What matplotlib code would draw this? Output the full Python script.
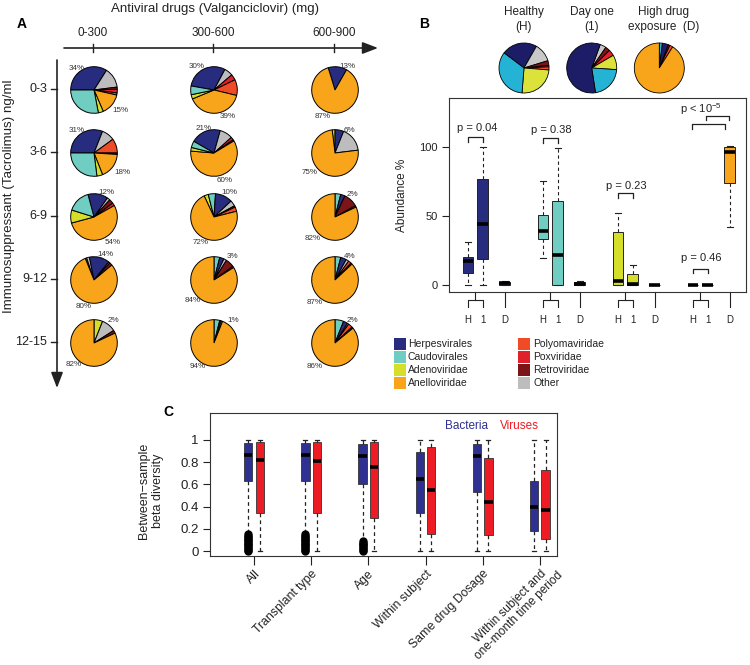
import matplotlib
matplotlib.use('Agg')
import matplotlib.pyplot as plt
from matplotlib.patches import Rectangle

plt.rcParams['font.family'] = ['Liberation Sans', 'DejaVu Sans']
plt.rcParams['axes.linewidth'] = 0.8

W, H = 750, 665
fig = plt.figure(figsize=(W / 100, H / 100), dpi=100)


def Y(y):
    return H - y


def px_axes(x0, y0, x1, y1):
    return fig.add_axes([x0 / W, 1 - y1 / H, (x1 - x0) / W, (y1 - y0) / H])


# ------------------------------------------------------------------ data
categories = ['Herpesvirales', 'Caudovirales', 'Adenoviridae', 'Anelloviridae',
              'Polyomaviridae', 'Poxviridae', 'Retroviridae', 'Other']
cat_colors = ['#282c7e', '#6fcdc1', '#d5df2a', '#f8a51b',
              '#ef4b27', '#e0202a', '#7c1517', '#bdbdbd']
cat_colors_B = ['#1c1d66', '#25b3d5', '#dbe33a', '#f8a51b',
                '#ef4b27', '#e0202a', '#7c1517', '#c8c8c8']

drug_doses = ['0-300', '300-600', '600-900']
tacro_levels = ['0-3', '3-6', '6-9', '9-12', '12-15']

# pie composition: (category index, percent), clockwise
pies_row_0_3 = [
    [(0, 34), (7, 14), (6, 1.5), (5, 2.5), (4, 1.5), (3, 15), (2, 3.5), (1, 28)],
    [(0, 30), (7, 6), (5, 4), (4, 11), (3, 40), (2, 3), (1, 6)],
    [(0, 13), (3, 87)],
]
pies_row_3_6 = [
    [(0, 31), (7, 9), (4, 10), (6, 1), (3, 18), (2, 4), (1, 27)],
    [(0, 21), (7, 9), (5, 2), (6, 1), (3, 60), (2, 2.5), (1, 4.5)],
    [(2, 2), (0, 6), (7, 17), (3, 75)],
]
pies_row_6_9 = [
    [(0, 14), (7, 2), (6, 3), (5, 2), (3, 54), (2, 9), (1, 16)],
    [(2, 3), (1, 5), (0, 12), (7, 4), (6, 1), (4, 3), (3, 72)],
    [(1, 4), (0, 3), (6, 10), (5, 1), (3, 82)],
]
pies_row_9_12 = [
    [(1, 1), (7, 2), (0, 14), (7, 1), (6, 2), (3, 80)],
    [(1, 4), (0, 3), (7, 2), (6, 6), (5, 1), (3, 84)],
    [(1, 4), (0, 4), (7, 2), (4, 2), (6, 1), (3, 87)],
]
pies_row_12_15 = [
    [(2, 6), (7, 10), (6, 2), (3, 82)],
    [(1, 4), (0, 1), (7, 1), (3, 94)],
    [(1, 6), (0, 3), (7, 1), (4, 3), (6, 1), (3, 86)],
]
pies_A = [pies_row_0_3, pies_row_3_6, pies_row_6_9, pies_row_9_12, pies_row_12_15]

top_labels = [['34%', '30%', '13%'], ['31%', '21%', '6%'], ['12%', '10%', '2%'],
              ['14%', '3%', '4%'], ['2%', '1%', '2%']]
bottom_labels = [['15%', '39%', '87%'], ['18%', '60%', '75%'], ['54%', '72%', '82%'],
                 ['80%', '84%', '87%'], ['82%', '94%', '86%']]

pie_healthy = [(0, 23), (7, 12), (6, 3), (5, 1), (4, 2), (2, 25), (1, 34)]
pie_dayone = [(7, 4), (6, 3), (5, 4), (2, 9.5), (1, 21.5), (0, 58)]
pie_highdrug = [(1, 2), (0, 4), (6, 1), (4, 2), (3, 91)]
pie_B_titles = ['Healthy\n(H)', 'Day one\n(1)', 'High drug\nexposure  (D)']

# panel B box stats (whislo, q1, med, q3, whishi) per virus group
box_H = [(0, 8.9, 17.6, 20.5, 30.9), (19.3, 33.3, 39.4, 50.5, 75.4),
         (0, 0, 3.1, 38.2, 52.2), (0, 0, 0, 0, 0)]
box_1 = [(0, 18.6, 44, 76.6, 100), (0, 0, 21.5, 61, 99),
         (0, 0, 0.7, 8, 14.2), (0, 0, 0, 0, 0)]
box_D = [(0, 0, 1.2, 2.2, 3.1), (0, 0, 1, 2, 3),
         (0, 0, 0, 0, 0), (42.3, 74.1, 96.6, 100, 100.5)]
box_group_colors = [cat_colors[0], cat_colors[1], cat_colors[2], cat_colors[3]]
box_xlabels = ['H', '1', 'D']
pvals = ['p = 0.04', 'p = 0.38', 'p = 0.23', 'p = 0.46']

# panel C beta diversity (whislo, q1, med, q3, whishi)
c_categories = ['All', 'Transplant type', 'Age', 'Within subject', 'Same drug Dosage',
                'Within subject and\none-month time period']
bact_stats = [(0.16, 0.63, 0.865, 0.975, 1.0), (0.16, 0.635, 0.865, 0.97, 1.0),
              (0.10, 0.605, 0.855, 0.965, 1.0), (0.0, 0.34, 0.645, 0.89, 1.0),
              (0.0, 0.535, 0.855, 0.96, 1.0), (0.0, 0.18, 0.395, 0.63, 1.0)]
virus_stats = [(0.0, 0.34, 0.82, 0.98, 1.0), (0.0, 0.345, 0.815, 0.98, 1.0),
               (0.0, 0.295, 0.76, 0.98, 1.0), (0.0, 0.155, 0.545, 0.935, 1.0),
               (0.0, 0.14, 0.445, 0.84, 1.0), (0.0, 0.11, 0.37, 0.73, 1.0)]
bact_outliers = [
    [0.0, 0.012, 0.025, 0.037, 0.05, 0.062, 0.075, 0.087, 0.1, 0.112, 0.125, 0.137, 0.15],
    [0.0, 0.012, 0.025, 0.037, 0.05, 0.062, 0.075, 0.087, 0.1, 0.112, 0.125, 0.137, 0.15],
    [0.0, 0.012, 0.025, 0.037, 0.05, 0.062, 0.075, 0.087],
    [], [], [],
]
bact_color = '#2e3192'
virus_color = '#ed1c24'

# ------------------------------------------------------------------ layout
col_x = [94, 214, 335]
row_y = [90, 153, 217, 280, 343]
R_A = 23.3
pie_start_A = [[180, 170, 107], [180, 150, 97], [105, 115, 90], [112, 90, 90], [90, 90, 90]]
top_off = [[(-17, -21), (-17, -23), (12, -24)], [(-17, -22), (-10, -25), (14, -23)],
           [(12, -25), (15, -25), (17, -23)], [(11, -26), (18, -23), (15, -23)],
           [(19, -23), (19, -23), (17, -23)]]
bot_off = [[(26, 20), (14, 27), (-12, 26)], [(28, 19), (11, 27), (-25, 20)],
           [(19, 25), (-13, 25), (-22, 22)], [(-10, 26), (-21, 20), (-20, 23)],
           [(-20, 22), (-16, 24), (-20, 23)]]

# ------------------------------------------------------------------ panel B boxes
axB = px_axes(449, 98, 746, 292)
grp_base = [0, 5.1, 10.2, 15.3]
offs = [0, 1, 2.5]
stats, pos, fcols = [], [], []
for g in range(4):
    for j, src in enumerate([box_H, box_1, box_D]):
        lo, q1, med, q3, hi = src[g]
        stats.append(dict(whislo=lo, q1=q1, med=med, q3=q3, whishi=hi, fliers=[]))
        pos.append(grp_base[g] + offs[j])
        fcols.append(box_group_colors[g])
bp = axB.bxp(stats, positions=pos, widths=0.72, capwidths=0.4, patch_artist=True,
             showfliers=False,
             boxprops=dict(edgecolor='#222222', linewidth=0.7),
             medianprops=dict(color='black', linewidth=2.6, solid_capstyle='butt'),
             whiskerprops=dict(color='#222222', linewidth=0.8, linestyle=(0, (3, 2.5))),
             capprops=dict(color='#222222', linewidth=0.8))
for patch, c in zip(bp['boxes'], fcols):
    patch.set_facecolor(c)
axB.set_xlim(-1.29, 18.91)
axB.set_ylim(-5.07, 135.5)
axB.set_xticks([])
axB.set_yticks([0, 50, 100])
axB.tick_params(axis='y', length=5, width=0.8, labelsize=8, pad=3, colors='#222222')
for s in axB.spines.values():
    s.set_color('#333333')
axB.set_ylabel('Abundance %', fontsize=8.5, labelpad=8, color='#222222')

tr = axB.get_xaxis_transform()
for g in range(4):
    xh, x1, xd = grp_base[g] + offs[0], grp_base[g] + offs[1], grp_base[g] + offs[2]
    xm = (xh + x1) / 2
    axB.plot([xm, xm], [0, -0.041], transform=tr, clip_on=False, color='#222', lw=0.8)
    axB.plot([xh, xh, x1, x1], [-0.077, -0.041, -0.041, -0.077], transform=tr,
             clip_on=False, color='#222', lw=0.8)
    axB.plot([xd, xd], [0, -0.077], transform=tr, clip_on=False, color='#222', lw=0.8)
    for xx, lab in zip([xh, x1, xd], box_xlabels):
        axB.text(xx, -0.144, lab, transform=tr, ha='center', va='center', fontsize=7,
                 color='#222')

# p-value brackets
brk = [(107.0, 103.4, 113.8), (106.5, 103.0, 112.3), (66.4, 62.8, 71.7), (11.6, 8.5, 19.8)]
for g in range(4):
    xh, x1 = grp_base[g], grp_base[g] + 1
    top, leg, ty = brk[g]
    axB.plot([xh, xh, x1, x1], [leg, top, top, leg], color='#222', lw=0.9)
    axB.text((xh + x1) / 2 + 0.1, ty, pvals[g], ha='center', va='center', fontsize=8,
             color='#222')
axB.plot([15.25, 15.25, 17.5, 17.5], [113.0, 116.7, 116.7, 113.0], color='#222', lw=0.9)
axB.plot([16.2, 16.2, 17.75, 17.75], [119.6, 122.5, 122.5, 119.6], color='#222', lw=0.9)
axB.text(15.85, 127.8, r'p < 10$^{\mathregular{-5}}$', ha='center', va='center',
         fontsize=8, color='#222')

# ------------------------------------------------------------------ panel C
axC = px_axes(210, 413, 557, 556)
cstats, cpos, ccols = [], [], []
for i in range(6):
    for src, fl, off, col in [(bact_stats, bact_outliers[i], -0.1, bact_color),
                              (virus_stats, [], 0.1, virus_color)]:
        lo, q1, med, q3, hi = src[i]
        cstats.append(dict(whislo=lo, q1=q1, med=med, q3=q3, whishi=hi, fliers=fl))
        cpos.append(i + off)
        ccols.append(col)
bpc = axC.bxp(cstats, positions=cpos, widths=0.145, capwidths=0.07, patch_artist=True,
              showfliers=True,
              boxprops=dict(edgecolor='#333333', linewidth=0.6),
              medianprops=dict(color='black', linewidth=2.6, solid_capstyle='butt'),
              whiskerprops=dict(color='#222222', linewidth=0.9, linestyle=(0, (3, 2.5))),
              capprops=dict(color='#222222', linewidth=0.9),
              flierprops=dict(marker='o', markerfacecolor='black', markeredgecolor='black',
                              markersize=5, linestyle='none'))
for patch, c in zip(bpc['boxes'], ccols):
    patch.set_facecolor(c)
axC.set_xlim(-0.77, 5.30)
axC.set_ylim(-0.045, 1.243)
axC.set_yticks([0, 0.2, 0.4, 0.6, 0.8, 1.0])
axC.set_yticklabels(['0', '0.2', '0.4', '0.6', '0.8', '1'])
axC.set_xticks(range(6))
axC.set_xticklabels(c_categories[:5] + [''], rotation=45, ha='right', va='top',
                    rotation_mode='anchor', fontsize=8.8, color='#222')
axC.tick_params(axis='x', length=6.5, width=0.8, pad=2, colors='#222')
axC.tick_params(axis='y', length=5, width=0.8, labelsize=9.5, pad=3, colors='#222')
for s in axC.spines.values():
    s.set_color('#333333')

# ------------------------------------------------------------------ overlay (panel A, B pies, text)
ov = fig.add_axes([0, 0, 1, 1])
ov.set_zorder(10)
ov.patch.set_alpha(0)

for r in range(5):
    for c in range(3):
        comp = pies_A[r][c]
        ov.pie([v for _, v in comp], colors=[cat_colors[k] for k, _ in comp],
               startangle=pie_start_A[r][c], counterclock=False,
               center=(col_x[c], Y(row_y[r])), radius=R_A,
               wedgeprops=dict(edgecolor='black', linewidth=0.7))
        dx, dy = top_off[r][c]
        ov.text(col_x[c] + dx, Y(row_y[r] + dy), top_labels[r][c], fontsize=5.8,
                ha='center', va='center', color='#333')
        dx, dy = bot_off[r][c]
        ov.text(col_x[c] + dx, Y(row_y[r] + dy), bottom_labels[r][c], fontsize=5.8,
                ha='center', va='center', color='#333')

# panel B pies
pieB_x = [524, 591.7, 659.3]
pieB_start = [143, 70, 90]
for comp, cx, st, title in zip([pie_healthy, pie_dayone, pie_highdrug], pieB_x,
                               pieB_start, pie_B_titles):
    ov.pie([v for _, v in comp], colors=[cat_colors_B[k] for k, _ in comp],
           startangle=st, counterclock=False,
           center=(cx, Y(68)), radius=25,
           wedgeprops=dict(edgecolor='black', linewidth=0.6))
    ov.text(cx + (4 if '(D)' in title else 0), Y(19.5), title, ha='center', va='center',
            fontsize=8.5, linespacing=1.25, color='#222')

ov.set_xlim(0, W)
ov.set_ylim(0, H)
ov.set_aspect('equal')
ov.axis('off')

# axes arrows of panel A
ov.annotate('', xy=(378, Y(48)), xytext=(64, Y(48)),
            arrowprops=dict(arrowstyle='-|>,head_length=0.47,head_width=0.18',
                            color='#222', lw=1.2, shrinkA=0, shrinkB=0, mutation_scale=20))
ov.annotate('', xy=(57, Y(388)), xytext=(57, Y(60)),
            arrowprops=dict(arrowstyle='-|>,head_length=0.47,head_width=0.18',
                            color='#222', lw=1.2, shrinkA=0, shrinkB=0, mutation_scale=20))
for c in range(3):
    ov.plot([col_x[c] - 1, col_x[c] - 1], [Y(44), Y(52)], color='#222', lw=1.0)
    ov.text(col_x[c] - 1, Y(33), drug_doses[c], ha='center', va='center', fontsize=8.5,
            color='#222')
for r in range(5):
    ov.plot([51, 57], [Y(row_y[r] - 1), Y(row_y[r] - 1)], color='#222', lw=1.0)
    ov.text(47, Y(row_y[r] - 1), tacro_levels[r], ha='right', va='center', fontsize=9,
            color='#222')
ov.text(215, Y(9), 'Antiviral drugs (Valganciclovir) (mg)', ha='center', va='center',
        fontsize=9.5, color='#222')
ov.text(9, Y(196), 'Immunosuppressant (Tacrolimus) ng/ml', ha='center', va='center',
        rotation=90, fontsize=9.6, color='#222')

# panel letters
ov.text(22, Y(24), 'A', fontsize=10, fontweight='bold', ha='center', va='center')
ov.text(424, Y(24), 'B', fontsize=10, fontweight='bold', ha='center', va='center')
ov.text(168, Y(412), 'C', fontsize=10, fontweight='bold', ha='center', va='center')

# legend for panel B
leg_x = [(394, 408), (518, 533)]
leg_y = [344, 357, 370, 383]
leg_order = [[0, 1, 2, 3], [4, 5, 6, 7]]
for col in range(2):
    for i, k in enumerate(leg_order[col]):
        sx, tx = leg_x[col]
        ov.add_patch(Rectangle((sx, Y(leg_y[i] + 6)), 12, 12, facecolor=cat_colors[k],
                               edgecolor='none'))
        ov.text(tx, Y(leg_y[i]), categories[k], ha='left', va='center', fontsize=7.5,
                color='#222')

# last (two-line) category label of panel C, lines centred
ov.text(548, Y(560), c_categories[5], rotation=45, ha='right', va='top',
        rotation_mode='anchor', multialignment='center', fontsize=8.6,
        linespacing=1.1, color='#222')

# panel C text
ov.text(151, Y(491), 'Between\u2212sample\nbeta diversity', ha='center', va='center',
        rotation=90, fontsize=9, linespacing=1.15, color='#222')
ov.text(466, Y(426), 'Bacteria', ha='center', va='center', fontsize=8.5, color=bact_color)
ov.text(519, Y(426), 'Viruses', ha='center', va='center', fontsize=8.5, color=virus_color)

fig.savefig('out.png', dpi=100)
